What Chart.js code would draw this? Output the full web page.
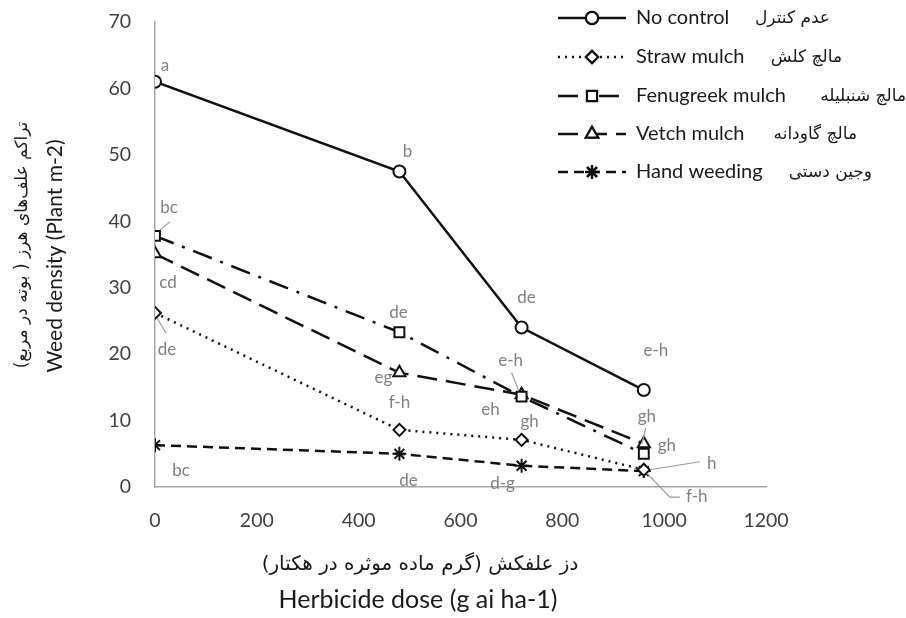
<!DOCTYPE html>
<html><head><meta charset="utf-8">
<script src="https://cdn.jsdelivr.net/npm/chart.js@4.4.0/dist/chart.umd.min.js"></script>
<style>html,body{margin:0;padding:0;background:#fff}#wrap{width:906px;height:618px}</style>
</head><body><div id="wrap"><canvas id="c" width="906" height="618"></canvas></div>
<script>
// ---------- data ----------
const doses = [0, 480, 720, 960];
const noControl = [61, 47.5, 24, 14.6];
const strawMulch = [26.2, 8.6, 7.1, 2.6];
const fenugreekMulch = [37.8, 23.3, 13.6, 5];
const vetchMulch = [35.1, 17.2, 13.9, 6.5];
const handWeeding = [6.3, 5, 3.2, 2.4];
const namesEn = ['No control', 'Straw mulch', 'Fenugreek mulch', 'Vetch mulch', 'Hand weeding'];
const namesFa = ['عدم کنترل', 'مالچ کلش', 'مالچ شنبلیله', 'مالچ گاودانه', 'وجین دستی'];
const lettersNoControl = ['a', 'b', 'de', 'e-h'];
const lettersStraw = ['de', 'f-h', 'gh', 'h'];
const lettersFenugreek = ['bc', 'de', 'e-h', 'gh'];
const lettersVetch = ['cd', 'eg', 'eh', 'gh'];
const lettersHand = ['bc', 'de', 'd-g', 'f-h'];
const xTickValues = [0, 200, 400, 600, 800, 1000, 1200];
const yTickValues = [0, 10, 20, 30, 40, 50, 60, 70];
const yTitleFa = 'تراکم علف‌های هرز ( بوته در مربع)';
const yTitleEn = 'Weed density (Plant m-2)';
const xTitleFa = 'دز علفکش (گرم ماده موثره در هکتار)';
const xTitleEn = 'Herbicide dose (g ai ha-1)';

// ---------- styling (label offsets in px, leader lines) ----------
const labelStyle = [
  {off: [[10,-16],[8,-20],[5,-30],[12,-39]], leaders: [null,null,null,null]},
  {off: [[12,37],[0,-27],[8,-18],[68,-6]], leaders: [[[2,5],[11,20]],null,null,[[6,0],[56,-8]]]},
  {off: [[14,-28],[-1,-20],[-11,-36],[3,-37]], leaders: [[[5,-6],[15,-14]],null,[[-10,-24],[-3,-6]],[[2,-26],[-2,-10]]]},
  {off: [[13,29],[-16,5],[-31,15],[23,2]], leaders: [null,null,null,null]},
  {off: [[26,25],[9,27],[-19,18],[53,25]], leaders: [null,null,null,[[3,2],[26,26],[36,26]]]}
];
const allLetters = [lettersNoControl, lettersStraw, lettersFenugreek, lettersVetch, lettersHand];
const legendY = [18, 57, 96, 134, 172];
const legendFaRight = [830, 842, 906, 857, 872];

const FONT = 'Lato, "DejaVu Sans", sans-serif';
const FA_FONT = '"DejaVu Sans", sans-serif';

function pts(arr){ return doses.map((d,i)=>({x:d, y:arr[i]})); }

const dsStyle = [
  {pointStyle:'circle', dash:[], r:6},
  {pointStyle:'rectRot', dash:[2,5], r:6},
  {pointStyle:'rect', dash:[20,9,3,9], r:7},
  {pointStyle:'triangle', dash:[20,9], r:7},
  {pointStyle:'star', dash:[10,6], r:7}
];
const seriesData = [noControl, strawMulch, fenugreekMulch, vetchMulch, handWeeding];

const datasets = seriesData.map((arr,i)=>({
  label: namesEn[i] + ' ' + namesFa[i],
  data: pts(arr),
  borderColor: '#111',
  backgroundColor: '#fff',
  borderWidth: 2.5,
  borderDash: dsStyle[i].dash,
  pointStyle: dsStyle[i].pointStyle,
  pointRadius: dsStyle[i].r,
  pointBorderWidth: 2,
  pointBorderColor: '#111',
  pointBackgroundColor: '#fff',
  tension: 0
}));

const labelPlugin = {
  id: 'letters',
  afterDatasetsDraw(chart){
    const ctx = chart.ctx;
    ctx.save();
    ctx.font = '17px ' + FONT;
    ctx.fillStyle = '#808080';
    ctx.strokeStyle = '#9a9a9a';
    ctx.lineWidth = 1.2;
    ctx.textAlign = 'center';
    ctx.textBaseline = 'middle';
    chart.data.datasets.forEach((ds, di)=>{
      const meta = chart.getDatasetMeta(di);
      meta.data.forEach((p, pi)=>{
        const o = labelStyle[di].off[pi];
        const ld = labelStyle[di].leaders[pi];
        if (ld){
          ctx.beginPath();
          ctx.moveTo(p.x+ld[0][0], p.y+ld[0][1]);
          for (let k=1;k<ld.length;k++) ctx.lineTo(p.x+ld[k][0], p.y+ld[k][1]);
          ctx.stroke();
        }
        ctx.fillText(allLetters[di][pi], p.x+o[0], p.y+o[1]);
      });
    });
    ctx.restore();
  }
};

const legendPlugin = {
  id: 'customLegend',
  afterDraw(chart){
    const ctx = chart.ctx;
    ctx.save();
    chart.data.datasets.forEach((ds, i)=>{
      const y = legendY[i];
      ctx.strokeStyle = '#111';
      ctx.lineWidth = 2.5;
      ctx.setLineDash(dsStyle[i].dash);
      ctx.beginPath(); ctx.moveTo(558, y); ctx.lineTo(626, y); ctx.stroke();
      ctx.setLineDash([]);
      ctx.fillStyle = '#fff';
      Chart.helpers.drawPoint(ctx, {pointStyle: dsStyle[i].pointStyle, radius: dsStyle[i].r, borderWidth: 2}, 592, y);
      ctx.lineWidth = 2;
      ctx.fill(); ctx.stroke();
      ctx.fillStyle = '#1a1a1a';
      ctx.font = '20px ' + FONT;
      ctx.textAlign = 'left';
      ctx.textBaseline = 'middle';
      ctx.fillText(namesEn[i], 636, y);
      ctx.font = '17px ' + FA_FONT;
      ctx.direction = 'rtl';
      ctx.textAlign = 'right';
      ctx.fillText(namesFa[i], legendFaRight[i], y+1);
      ctx.direction = 'ltr';
    });
    ctx.restore();
  }
};

const titlePlugin = {
  id: 'axisTitles',
  afterDraw(chart){
    const ctx = chart.ctx;
    ctx.save();
    ctx.fillStyle = '#1a1a1a';
    ctx.textAlign = 'center';
    ctx.textBaseline = 'middle';
    ctx.direction = 'rtl';
    ctx.font = '20px ' + FA_FONT;
    ctx.fillText(xTitleFa, 420, 565);
    ctx.direction = 'ltr';
    ctx.font = '25px ' + FONT;
    ctx.fillText(xTitleEn, 418, 600);
    ctx.save();
    ctx.translate(23, 245);
    ctx.rotate(-Math.PI/2);
    ctx.direction = 'rtl';
    ctx.font = '17px ' + FA_FONT;
    ctx.fillText(yTitleFa, 0, 0);
    ctx.restore();
    ctx.save();
    ctx.translate(55, 256);
    ctx.rotate(-Math.PI/2);
    ctx.direction = 'ltr';
    ctx.font = '21px ' + FONT;
    ctx.fillText(yTitleEn, 0, 0);
    ctx.restore();
    ctx.restore();
  }
};

new Chart(document.getElementById('c'), {
  type: 'line',
  data: { datasets },
  options: {
    responsive: false,
    animation: false,
    layout: { padding: { top: 22, right: 140, left: 0, bottom: 0 } },
    plugins: { legend: { display: false }, tooltip: { enabled: false } },
    scales: {
      x: {
        type: 'linear', min: 0, max: 1200,
        afterFit(s){ s.height = 131; s.paddingLeft = 0; s.paddingRight = 0; },
        afterBuildTicks(s){ s.ticks = xTickValues.map(v=>({value:v})); },
        grid: { display: false, drawTicks: false },
        border: { display: true, color: '#a6a6a6', width: 1.5 },
        ticks: { color: '#404040', font: { size: 19.5, family: FONT }, padding: 22, maxRotation: 0,
                 callback: v => String(v) },
        title: { display: false, text: xTitleEn }
      },
      y: {
        type: 'linear', min: 0, max: 70,
        afterFit(s){ s.width = 155; s.paddingTop = 0; s.paddingBottom = 0; },
        afterBuildTicks(s){ s.ticks = yTickValues.map(v=>({value:v})); },
        grid: { display: false, drawTicks: false },
        border: { display: true, color: '#a6a6a6', width: 1.5 },
        ticks: { color: '#404040', font: { size: 19.5, family: FONT }, padding: 24,
                 callback: v => String(v) },
        title: { display: false, text: yTitleEn }
      }
    }
  },
  plugins: [labelPlugin, legendPlugin, titlePlugin]
});
</script></body></html>
